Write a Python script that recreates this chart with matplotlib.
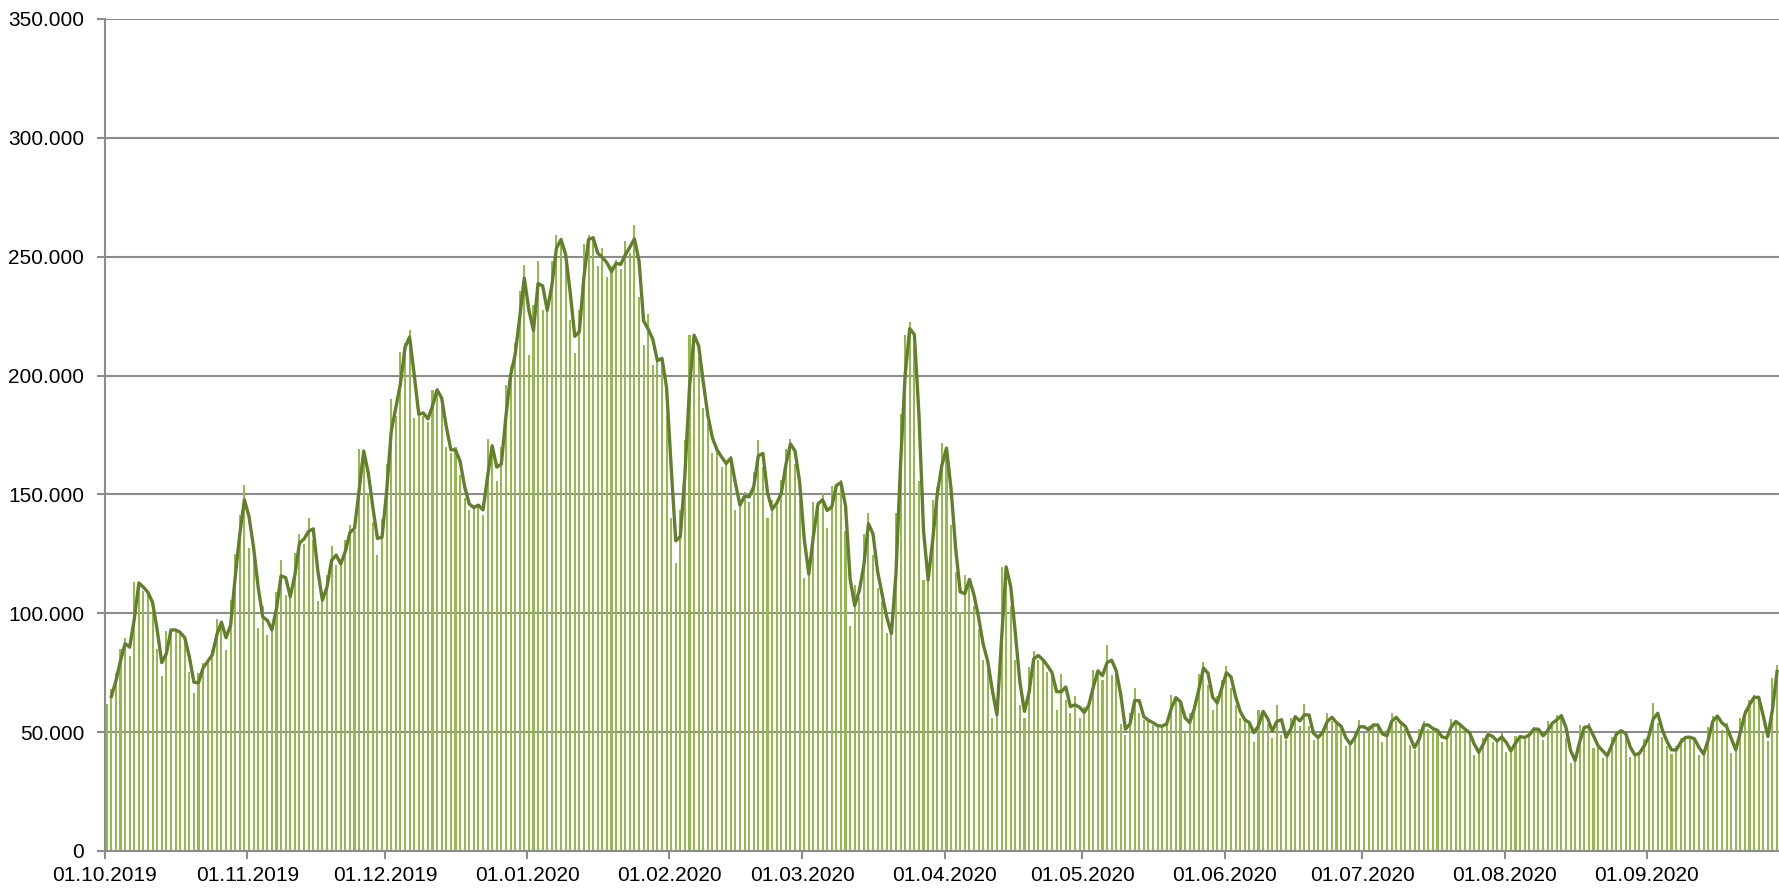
import numpy as np
import pandas as pd
import matplotlib

matplotlib.use('Agg')
import matplotlib.pyplot as plt
import matplotlib.dates as mdates
from matplotlib.ticker import FuncFormatter

# daily values in thousands
oct_2019 = [62, 68, 75, 85, 89.5, 82, 113, 112.5, 109.5, 108, 101, 85, 73.5, 92.5, 93.5, 92.5,
            91.5, 88, 75.5, 66.5, 75, 79, 80.5, 84.5, 97.5, 95, 84.5, 105.5, 125, 141.5, 154]
nov_2019 = [127.5, 128, 94, 103, 91, 95, 109, 122.5, 107.5, 106.5, 125.5, 133.5, 129, 140, 131,
            105, 106, 116, 128.5, 120.5, 121, 131, 137, 134.5, 169, 167.5, 150.5, 138.5, 124.5, 139.5]
dec_2019 = [163, 190, 183, 210, 213.5, 219, 182, 185.5, 183, 180.5, 194, 194, 187, 170, 167.5, 170,
            158, 148.5, 143.5, 145.5, 145.5, 141.5, 173.5, 167.5, 155.5, 170, 196, 204, 213.5, 235.5, 246.5]
jan_2020 = [208.5, 229.5, 248, 227.5, 227.5, 248, 259, 255.5, 246.5, 223.5, 209.5, 227.5, 255.5, 259,
            257, 246, 253.5, 241.5, 246, 248.5, 245, 256.5, 251.5, 263.5, 233, 213, 226, 204.5, 208,
            206.5, 183.5]
feb_2020 = [140, 121, 143.5, 173, 217, 217, 208, 186.5, 180, 167.5, 170, 161.5, 164.5, 166, 143.5,
            147.5, 151, 147, 159.5, 173, 161.5, 140, 147.5, 145, 156, 169, 173.5, 163, 147.5]
mar_2020 = [115, 118, 147, 145, 150.5, 136, 153.5, 154, 156, 134.5, 94.5, 112, 107, 133.5, 142, 124.5,
            110.5, 105, 91.5, 91.5, 142, 184, 217, 222.5, 212, 155.5, 114, 114, 147.5, 153, 171.5]
apr_2020 = [167.5, 137, 117.5, 100.5, 116, 112.5, 103, 93.5, 80.5, 79, 56, 58.5, 119.5, 119.5, 103,
            80.5, 61.5, 56, 77.5, 84, 80.5, 80.5, 75.5, 74.5, 59.5, 74.5, 63.5, 58, 65, 56]
may_2020 = [60.5, 62, 76, 75.5, 72, 86.5, 74, 77.5, 53.5, 49, 58, 68.5, 58, 55, 55, 53, 52.5, 52.5,
            54.5, 65.5, 63.5, 62, 50, 58, 61.5, 74.5, 79.5, 70, 59.5, 65, 72]
jun_2020 = [78, 68.5, 61.5, 56, 54.5, 53.5, 46, 59.5, 58, 53.5, 47.5, 61.5, 49, 46.5, 56, 57, 52.5,
            62, 52.5, 46.5, 49, 51, 58, 54.5, 53.5, 51.5, 44, 46, 49.5, 55]
jul_2020 = [49.5, 52.5, 53.5, 52.5, 46, 51, 58, 54.5, 53.5, 51.5, 44.5, 42.5, 51.5, 54.5, 51.5, 51.5,
            50, 46, 49, 55.5, 53.5, 52.5, 50, 49.5, 40.5, 42.5, 47.5, 50.5, 46, 46.5, 49.5]
aug_2020 = [41.8, 42.5, 48.2, 48.1, 47.4, 50.2, 52.3, 50.2, 46.7, 54.5, 53, 57.3, 56.6, 47.4, 37.2, 39,
            53, 51, 53.7, 43.2, 45.3, 39, 41.1, 48.1, 50.2, 51, 47.9, 39.7, 41.1, 41.1, 47]
sep_2020 = [48.8, 62.2, 53.7, 48.1, 44.2, 40.9, 44, 47.4, 48.1, 47.7, 46.7, 40.4, 41.1, 52.3, 56.8,
            56.8, 51, 53.7, 41.1, 44, 56, 59.4, 63.6, 65.7, 63.6, 50, 46.3, 72.7, 78.3]

daily_k = (oct_2019 + nov_2019 + dec_2019 + jan_2020 + feb_2020 + mar_2020 + apr_2020 + may_2020
           + jun_2020 + jul_2020 + aug_2020 + sep_2020)
values = np.array(daily_k) * 1000
dates = pd.date_range('2019-10-01', periods=len(values), freq='D')

# 2-day moving average trendline
trend = pd.Series(values).rolling(2).mean()

plt.rcParams['font.family'] = ['Liberation Sans Narrow', 'Liberation Sans', 'DejaVu Sans']

fig = plt.figure(figsize=(17.79, 8.93), dpi=100)
ax = fig.add_axes([105 / 1779, 1 - 851 / 893, 1 - 105 / 1779, (851 - 19) / 893])

bar_color = '#94b94f'
line_color = '#627f2c'
grid_color = '#8c8c8c'

# bars start a little after the date tick, like the original
ax.bar(dates + pd.Timedelta(hours=3.6), values, width=0.45, align='edge', color=bar_color, zorder=2)
ax.plot(dates + pd.Timedelta(hours=9), trend, color=line_color, linewidth=2.4, zorder=3,
        solid_joinstyle='round')

# axes and grid
ax.set_ylim(0, 350000)
ax.set_yticks(np.arange(0, 350001, 50000))
ax.yaxis.set_major_formatter(FuncFormatter(lambda v, p: '{:,.0f}'.format(v).replace(',', '.')))
ax.set_xlim(dates[0], dates[0] + pd.Timedelta(days=364.8))
ax.xaxis.set_major_locator(mdates.MonthLocator(bymonthday=1))
ax.xaxis.set_major_formatter(mdates.DateFormatter('%d.%m.%Y'))

ax.yaxis.grid(True, color=grid_color, linewidth=1.5)
ax.set_axisbelow(True)
for side in ['top', 'right']:
    ax.spines[side].set_visible(False)
for side in ['left', 'bottom']:
    ax.spines[side].set_color(grid_color)
    ax.spines[side].set_linewidth(1.5)

ax.tick_params(axis='y', length=6, width=1.5, color=grid_color, pad=9, labelsize=15)
ax.tick_params(axis='x', length=6, width=1.5, color=grid_color, pad=5, labelsize=15)

plt.savefig('out.png', dpi=100)
